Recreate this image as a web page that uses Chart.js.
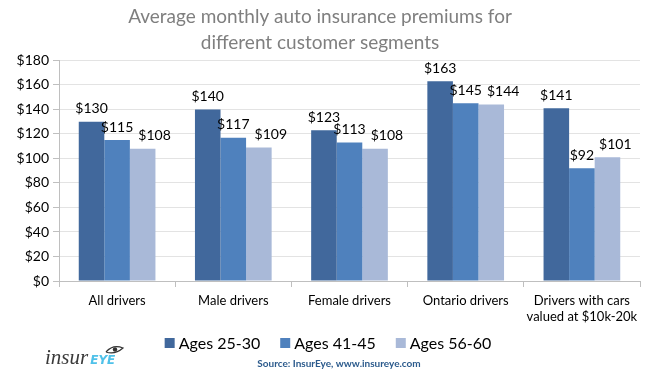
<!DOCTYPE html>
<html>
<head>
<meta charset="utf-8">
<script src="https://cdn.jsdelivr.net/npm/chart.js@4/dist/chart.umd.min.js"></script>
<style>
  html, body { margin: 0; padding: 0; background: #fff; }
  #wrap { position: relative; width: 650px; height: 379px; }
</style>
</head>
<body>
<div id="wrap"><canvas id="chart" width="650" height="379"></canvas></div>
<script>
const categories = ['All drivers', 'Male drivers', 'Female drivers', 'Ontario drivers', ['Drivers with cars', 'valued at $10k-20k']];
const seriesNames = ['Ages 25-30', 'Ages 41-45', 'Ages 56-60'];
const ages25to30 = [130, 140, 123, 163, 141];
const ages41to45 = [115, 117, 113, 145, 92];
const ages56to60 = [108, 109, 108, 144, 101];
const yTicks = [0, 20, 40, 60, 80, 100, 120, 140, 160, 180];

const FONT = 'Lato, "Open Sans", sans-serif';
const colors = ['#41689c', '#4f81bd', '#a9b9d8'];

// value labels above bars, nudged right when they collide with the previous one
const valueLabels = {
  id: 'valueLabels',
  afterDatasetsDraw(chart) {
    const ctx = chart.ctx;
    ctx.save();
    ctx.font = '14px ' + FONT;
    ctx.fillStyle = '#000';
    ctx.textAlign = 'left';
    ctx.textBaseline = 'bottom';
    const n = chart.data.labels.length;
    for (let j = 0; j < n; j++) {
      let prev = null;
      chart.data.datasets.forEach((ds, i) => {
        const bar = chart.getDatasetMeta(i).data[j];
        const txt = '$' + ds.data[j];
        const w = ctx.measureText(txt).width;
        let left = bar.x - w / 2;
        const bottom = bar.y - 6;
        const top = bottom - 12;
        if (prev && top < prev.bottom && bottom > prev.top && left < prev.right + 2) {
          left = prev.right + 5;
        }
        ctx.fillText(txt, left, bottom);
        prev = { right: left + w, top: top, bottom: bottom };
      });
    }
    ctx.restore();
  }
};

// legend row drawn by hand (the built-in one would push the axis labels around)
const bottomLegend = {
  id: 'bottomLegend',
  afterDraw(chart) {
    const ctx = chart.ctx;
    ctx.save();
    ctx.font = '16px ' + FONT;
    ctx.textBaseline = 'middle';
    ctx.textAlign = 'left';
    const box = 10, gap = 4, spacing = 20, cy = 343;
    const items = chart.data.datasets.map(ds => ({ text: ds.label, color: ds.backgroundColor, w: ctx.measureText(ds.label).width }));
    const total = items.reduce((s, it) => s + box + gap + it.w, 0) + spacing * (items.length - 1);
    let x = 328 - total / 2;
    items.forEach(it => {
      ctx.fillStyle = it.color;
      ctx.fillRect(x, cy - box / 2, box, box);
      ctx.fillStyle = '#000';
      ctx.fillText(it.text, x + box + gap, cy + 1);
      x += box + gap + it.w + spacing;
    });
    ctx.restore();
  }
};

// logo and source line
const footer = {
  id: 'footer',
  afterDraw(chart) {
    const ctx = chart.ctx;
    ctx.save();
    ctx.textBaseline = 'alphabetic';
    ctx.textAlign = 'left';
    ctx.fillStyle = '#3a3a3a';
    ctx.font = 'italic 21px "Liberation Serif", serif';
    ctx.fillText('insur', 45, 364);
    const w = ctx.measureText('insur').width;
    ctx.fillStyle = '#4fc1e9';
    ctx.font = 'italic bold 12px "DejaVu Sans", sans-serif';
    ctx.fillText('EYE', 45 + w + 2, 364);
    // eye mark
    ctx.strokeStyle = '#333';
    ctx.lineWidth = 1.2;
    ctx.beginPath();
    ctx.moveTo(106, 352);
    ctx.quadraticCurveTo(113, 344, 123, 348);
    ctx.quadraticCurveTo(115, 355, 106, 352);
    ctx.stroke();
    ctx.fillStyle = '#333';
    ctx.beginPath();
    ctx.arc(115, 349.5, 2.2, 0, Math.PI * 2);
    ctx.fill();

    ctx.textAlign = 'center';
    ctx.fillStyle = '#2b5a8c';
    ctx.font = 'bold 10px ' + FONT;
    ctx.fillText('Source: InsurEye, www.insureye.com', 339, 367);
    ctx.restore();
  }
};

new Chart(document.getElementById('chart'), {
  type: 'bar',
  data: {
    labels: categories,
    datasets: [
      { label: seriesNames[0], data: ages25to30, backgroundColor: colors[0] },
      { label: seriesNames[1], data: ages41to45, backgroundColor: colors[1] },
      { label: seriesNames[2], data: ages56to60, backgroundColor: colors[2] }
    ]
  },
  options: {
    responsive: false,
    animation: false,
    layout: { padding: { left: 0, right: 10, top: 0, bottom: 53 } },
    datasets: { bar: { categoryPercentage: 0.66, barPercentage: 1 } },
    plugins: {
      title: {
        display: true,
        text: ['Average monthly auto insurance premiums for', 'different customer segments'],
        color: '#7f7f7f',
        font: { family: FONT, size: 19, weight: 'normal', lineHeight: 1.38 },
        padding: { top: 4, bottom: 4 }
      },
      legend: { display: false },
      tooltip: { enabled: false }
    },
    scales: {
      x: {
        grid: { offset: true, drawOnChartArea: false, tickLength: 6, color: '#bfbfbf' },
        border: { color: '#bfbfbf' },
        ticks: { color: '#000', font: { family: FONT, size: 13 }, padding: 6, maxRotation: 0 },
        afterFit(scale) { scale.height = 45; }
      },
      y: {
        min: 0,
        max: 180,
        afterBuildTicks(scale) { scale.ticks = yTicks.map(v => ({ value: v })); },
        grid: { color: '#e3e3e3', tickLength: 6, tickColor: '#bfbfbf' },
        border: { color: '#bfbfbf' },
        ticks: {
          color: '#000',
          font: { family: FONT, size: 14 },
          padding: 4,
          callback: v => '$' + v
        },
        afterFit(scale) { scale.width = 59; }
      }
    }
  },
  plugins: [valueLabels, bottomLegend, footer]
});
</script>
</body>
</html>
